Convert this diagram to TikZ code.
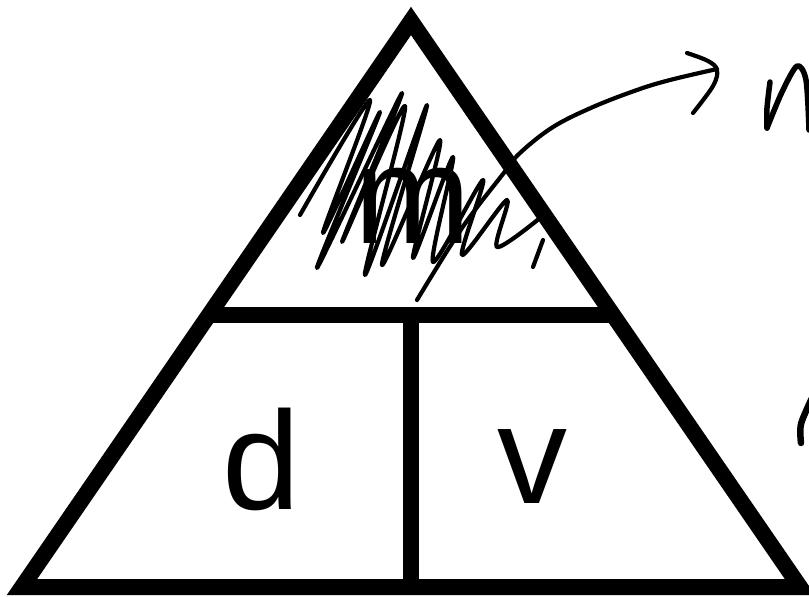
\documentclass[tikz,border=0pt]{standalone}
\usepackage{fontspec}
\setmainfont{Liberation Sans}
\begin{document}
\begin{tikzpicture}[x=1pt,y=-1pt,
  frame/.style={line width=16pt, line join=miter},
  pen/.style={line width=4.2pt, line cap=round, line join=round},
  letter/.style={font=\fontsize{140}{140}\selectfont, inner sep=0pt, anchor=base}]
\useasboundingbox (0,0) rectangle (809,597);
\fill[white] (0,0) rectangle (809,597);
% triangle and dividers
\draw[frame] (411,21) -- (22,587) -- (800,587) -- cycle;
\draw[frame] (209,315) -- (613,315);
\draw[frame] (411,315) -- (411,587);
% letters
\node[letter] (m) at (413,243) {m};
\node[letter] (d) at (261,509) {d};
\node[letter] (v) at (532,503) {v};
% scribble over m
\draw[pen] plot[smooth, tension=0.5] coordinates {
  (300,215) (370,100) (323,233) (380,112) (317,268) (402,93) (342,242)
  (405,106) (365,275) (427,105) (382,265) (440,140) (413,258) (453,157)
  (433,262) (483,180) (462,255) (507,200) (497,247) (540,218)};
\draw[pen] (533,267) -- (543,240);
% long stroke turning into arrow
\draw[pen] plot[smooth, tension=0.6] coordinates {
  (417,300) (462,228) (503,174) (520,153) (553,127) (593,107) (637,90) (670,80) (717,69)};
\draw[pen] plot[smooth, tension=0.6] coordinates {
  (687,53) (708,61) (717,70) (713,86) (693,113)};
% handwritten strokes at right
\draw[pen, line width=5.5pt] plot[smooth, tension=0.5] coordinates {
  (770,82) (767,108) (767,128)};
\draw[pen, line width=5.5pt] plot[smooth, tension=0.5] coordinates {
  (767,128) (782,92) (797,66) (806,80) (809,130)};
\draw[pen, line width=6.5pt] plot[smooth, tension=0.5] coordinates {
  (801,443) (801,424) (812,398)};
\end{tikzpicture}
\end{document}
